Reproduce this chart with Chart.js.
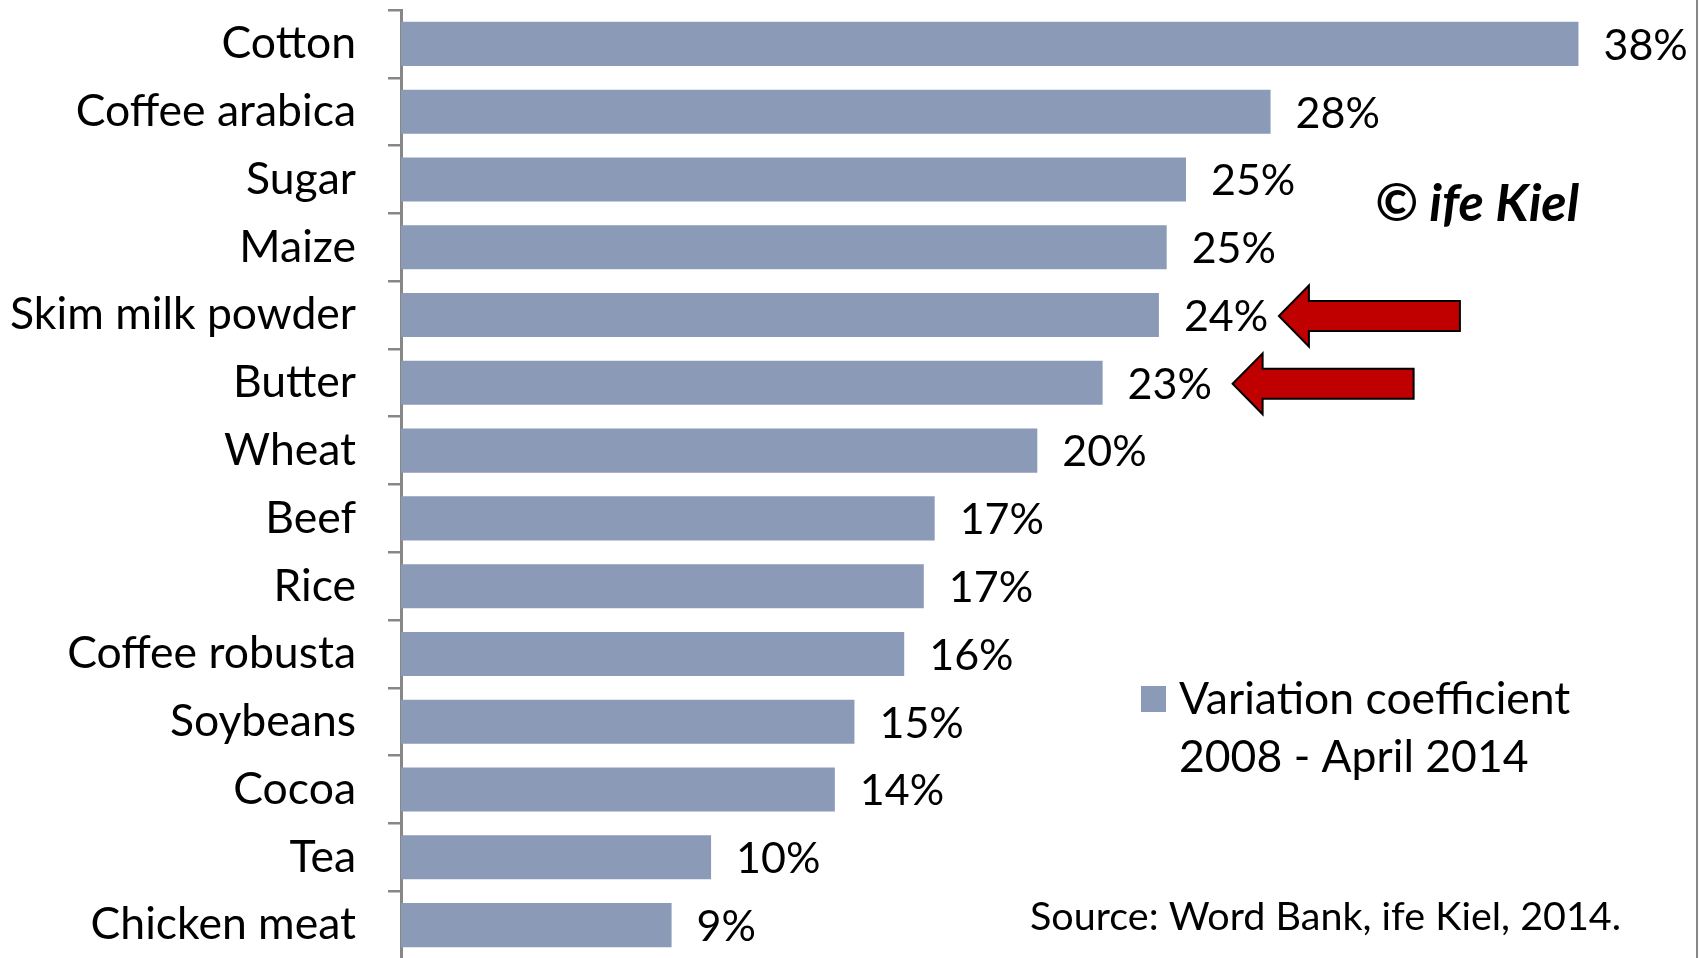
<!DOCTYPE html>
<html><head><meta charset="utf-8">
<script src="https://cdn.jsdelivr.net/npm/chart.js@4/dist/chart.umd.min.js"></script>
<style>html,body{margin:0;padding:0;background:#fff;overflow:hidden}canvas{display:block}</style>
</head><body><canvas id="c" width="1700" height="960"></canvas>
<script>
const categories = ["Cotton","Coffee arabica","Sugar","Maize","Skim milk powder","Butter","Wheat","Beef","Rice","Coffee robusta","Soybeans","Cocoa","Tea","Chicken meat"];
const variationCoefficient = [37.86, 27.96, 25.24, 24.62, 24.37, 22.56, 20.46, 17.16, 16.81, 16.18, 14.58, 13.95, 9.97, 8.7];
const seriesLabelLines = ["Variation coefficient", "2008 - April 2014"];
const highlightedCategories = ["Skim milk powder", "Butter"];
const copyrightText = "\u00A9 ife Kiel";
const sourceText = "Source: Word Bank, ife Kiel, 2014.";

const FONT = "Lato";
const FS = 44.5;
const VAL_FS = 43;
const BAR_COLOR = "#8B9AB7";
const AXIS_COLOR = "#878787";

const valueLabels = {
  id: "valueLabels",
  afterDatasetsDraw(chart) {
    const ctx = chart.ctx;
    const meta = chart.getDatasetMeta(0);
    ctx.save();
    ctx.font = VAL_FS + "px " + FONT;
    ctx.fillStyle = "#000";
    ctx.textAlign = "left";
    ctx.textBaseline = "middle";
    meta.data.forEach((bar, i) => {
      const v = chart.data.datasets[0].data[i];
      ctx.fillText(Math.round(v) + "%", bar.x + 25, bar.y + 2);
    });
    ctx.restore();
  }
};

const decorations = {
  id: "decorations",
  afterDraw(chart, args, opts) {
    const ctx = chart.ctx;
    const meta = chart.getDatasetMeta(0);
    ctx.save();
    // arrows
    opts.arrows.forEach(a => {
      const idx = chart.data.labels.indexOf(a.category);
      const bar = meta.data[idx];
      const tx = bar.x + a.tipGap, cy = bar.y + 1;
      const hl = 30, hh = 30.5, sh = 15, len = 181;
      ctx.beginPath();
      ctx.moveTo(tx, cy);
      ctx.lineTo(tx + hl, cy - hh);
      ctx.lineTo(tx + hl, cy - sh);
      ctx.lineTo(tx + len, cy - sh);
      ctx.lineTo(tx + len, cy + sh);
      ctx.lineTo(tx + hl, cy + sh);
      ctx.lineTo(tx + hl, cy + hh);
      ctx.closePath();
      ctx.fillStyle = "#C00000";
      ctx.fill();
      ctx.lineWidth = 2;
      ctx.strokeStyle = "#000";
      ctx.lineJoin = "miter";
      ctx.stroke();
    });
    // legend
    ctx.fillStyle = chart.data.datasets[0].backgroundColor;
    ctx.fillRect(1141, 686, 25, 26);
    ctx.fillStyle = "#000";
    ctx.font = FS + "px " + FONT;
    ctx.textAlign = "left";
    ctx.textBaseline = "middle";
    seriesLabelLines.forEach((t, i) => ctx.fillText(t, 1179, 700 + i * 58));
    // source
    ctx.font = "39.5px " + FONT;
    ctx.fillText(sourceText, 1030, 917);
    // copyright
    ctx.font = "italic bold 52px " + FONT;
    ctx.fillText(copyrightText, 1375, 204);
    // right border
    ctx.fillStyle = AXIS_COLOR;
    ctx.fillRect(1696, 0, 2, 960);
    ctx.restore();
  }
};

new Chart(document.getElementById("c"), {
  type: "bar",
  data: {
    labels: categories,
    datasets: [{
      label: seriesLabelLines.join(" "),
      data: variationCoefficient,
      backgroundColor: BAR_COLOR,
      borderWidth: 0,
      barPercentage: 0.65,
      categoryPercentage: 1.0
    }]
  },
  options: {
    indexAxis: "y",
    responsive: false,
    animation: false,
    events: [],
    layout: { padding: { top: 10, bottom: 1, left: 0, right: 55 } },
    plugins: {
      legend: { display: false },
      tooltip: { enabled: false },
      decorations: {
        arrows: [
          { category: highlightedCategories[0], tipGap: 120 },
          { category: highlightedCategories[1], tipGap: 130 }
        ]
      }
    },
    scales: {
      x: { display: false, min: 0, max: 40 },
      y: {
        afterFit(scale) {
          scale.width = 401;
          scale.paddingTop = 0;
          scale.paddingBottom = 0;
        },
        grid: {
          drawOnChartArea: false,
          drawTicks: true,
          tickLength: 13,
          color: AXIS_COLOR,
          lineWidth: 2.5,
          offset: true
        },
        border: { display: true, color: AXIS_COLOR, width: 3 },
        ticks: {
          color: "#000",
          font: { family: FONT, size: FS },
          padding: 32,
          autoSkip: false
        }
      }
    }
  },
  plugins: [valueLabels, decorations]
});
</script>
</body></html>
